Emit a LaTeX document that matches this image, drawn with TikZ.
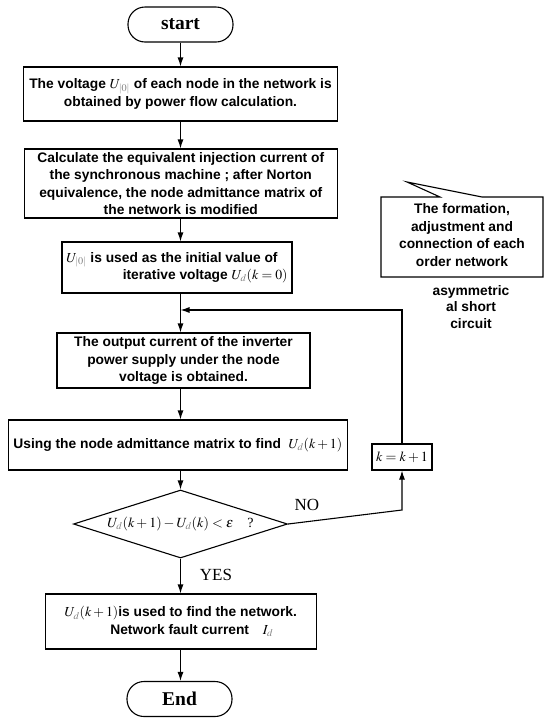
\documentclass[tikz,border=0pt]{standalone}
\usepackage{mathptmx}
\usepackage[no-math]{fontspec}
\setmainfont{Liberation Sans}
\newfontfamily\timesfont{Liberation Serif}
\usetikzlibrary{arrows.meta,shapes.geometric}
\newcommand\bxf{\fontsize{13.8}{17.5}\selectfont\bfseries}
\newcommand\bxs{\fontsize{13.8}{16.5}\selectfont\bfseries}
\newcommand\trmb{\timesfont\bfseries\fontsize{19.5}{22}\selectfont}
\newcommand\trm{\timesfont\fontsize{17}{20}\selectfont}
\newcommand\mth{\timesfont\fontsize{14}{17}\selectfont}
\newcommand\gsub[1]{{\color{gray}#1}}
\begin{document}
\begin{tikzpicture}[x=1pt,y=-1pt,
  every node/.style={inner sep=2pt},
  proc/.style={draw, line width=1.1pt, align=center, font=\bxf},
  term/.style={draw, line width=1.1pt, rounded corners=17pt, minimum width=105pt, minimum height=35pt, font=\trmb},
  arr/.style={line width=1.1pt, -{Latex[length=9pt,width=6pt]}},
  ln/.style={line width=1.1pt}]
\useasboundingbox (0,0) rectangle (550,721);

\node[term] (start) at (180.5,24.5) {start};
\node[proc, minimum width=314pt, minimum height=54pt] (b1) at (180.5,94)
  {The voltage $U_{\gsub{|0|}}$ of each node in the network is\\ obtained by power flow calculation.};
\node[proc, minimum width=313.5pt, minimum height=69pt] (b2) at (180.8,183.5)
  {Calculate the equivalent injection current of\\ the synchronous machine ; after Norton\\ equivalence, the node admittance matrix of\\ the network is modified};
\node[proc, align=right, minimum width=230pt, minimum height=51pt] (b3) at (177,267.5)
  {$U_{\gsub{|0|}}$ is used as the initial value of\hspace*{10pt}\\ iterative voltage $U_{\gsub{d}}(k=0)$};
\node[proc, minimum width=253pt, minimum height=55pt] (b4) at (183.5,360.5)
  {The output current of the inverter\\ power supply under the node\\ voltage is obtained.};
\node[proc, minimum width=338.5pt, minimum height=50pt] (b5) at (177.8,445)
  {Using the node admittance matrix to find \ $U_{\gsub{d}}(k+1)$};
\node[draw, line width=1.1pt, shape=diamond, shape aspect=3.15, inner sep=0pt,
  minimum width=214pt, minimum height=68pt, font=\mth] (dec) at (180.5,524)
  {$U_{\gsub{d}}(k+1)-U_{\gsub{d}}(k)<\varepsilon$\quad ?};
\node[draw, line width=1.1pt, minimum width=60pt, minimum height=26pt, font=\mth] (k) at (402,457)
  {$k=k+1$};
\node[proc, minimum width=271.5pt, minimum height=55pt] (b6) at (180.8,621.5)
  {$U_{\gsub{d}}(k+1)$is used to find the network.\\ \hspace*{22pt}Network fault current\quad $I_{\gsub{d}}$};
\node[term] (end) at (179.5,699) {End};

% callout
\coordinate (tip) at (407,182);
\draw[ln, fill=white] (381,197) -- (440,197) -- (tip) -- (482,197) -- (543,197)
  -- (543,277) -- (381,277) -- cycle;
\node[align=center, font=\bxf] (note) at (462,235)
  {The formation,\\ adjustment and\\ connection of each\\ order network};
\node[align=center, font=\bxs] (asym) at (471,307)
  {asymmetric\\ al short\\ circuit};

% connectors
\coordinate (m) at (180.5,310);
\coordinate (nc) at (402,510);
\draw[arr] (start.south) -- (start.south |- b1.north);
\draw[arr] (b1.south -| start) -- (b2.north -| start);
\draw[arr] (b2.south -| start) -- (b3.north -| start);
\draw[arr] (b3.south -| start) -- (b4.north -| start);
\draw[arr] (b4.south -| start) -- (b5.north -| start);
\draw[arr] (b5.south -| start) -- (dec.north);
\draw[arr] (dec.south) -- (b6.north -| start);
\draw[arr] (b6.south -| start) -- (end.north -| start);
\draw[arr] (dec.east) -- (nc) -- (k.south);
\draw[arr] (k.north) -- (k.north |- m) -- (m);
\node[font=\trm] (no) at (307,505) {NO};
\node[font=\trm] (yes) at (216,575) {YES};
\end{tikzpicture}
\end{document}
